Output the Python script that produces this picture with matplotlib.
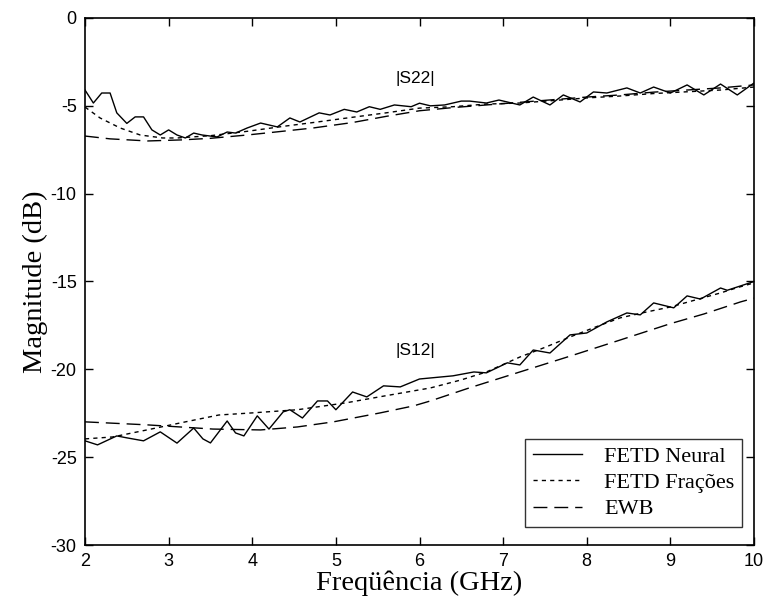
import matplotlib
matplotlib.use("Agg")
import matplotlib.pyplot as plt

# ---- data ----
s22_neural_x = [2.0, 2.1, 2.2, 2.3, 2.38, 2.5, 2.6, 2.7, 2.8, 2.9, 3.0, 3.1, 3.2, 3.3, 3.4, 3.58, 3.7, 3.8, 3.94,
                4.1, 4.3, 4.45, 4.57, 4.8, 4.93, 5.1, 5.25, 5.4, 5.53, 5.7, 5.9, 6.0, 6.13, 6.3, 6.5, 6.6, 6.8,
                6.95, 7.2, 7.36, 7.56, 7.72, 7.92, 8.08, 8.24, 8.48, 8.64, 8.8, 9.0, 9.2, 9.4, 9.6, 9.8, 10.0]
s22_neural_y = [-4.1, -4.84, -4.27, -4.27, -5.4, -6.0, -5.63, -5.63, -6.37, -6.66, -6.37, -6.66, -6.83, -6.55,
                -6.66, -6.77, -6.49, -6.55, -6.26, -5.98, -6.2, -5.69, -5.92, -5.4, -5.52, -5.2, -5.35, -5.05,
                -5.2, -4.95, -5.05, -4.85, -5.0, -4.95, -4.73, -4.73, -4.84, -4.67, -4.95, -4.5, -4.95, -4.38,
                -4.78, -4.21, -4.27, -3.98, -4.27, -3.93, -4.27, -3.81, -4.38, -3.76, -4.38, -3.7]

s22_frac_x = [2.0, 2.18, 2.42, 2.66, 2.93, 3.1, 3.5, 3.94, 4.4, 4.73, 5.2, 5.6, 6.0, 6.4, 6.8, 7.2, 7.6, 8.0,
              8.4, 8.8, 9.2, 9.6, 10.0]
s22_frac_y = [-5.07, -5.69, -6.26, -6.66, -6.83, -6.83, -6.7, -6.45, -6.15, -5.95, -5.65, -5.4, -5.13, -5.05,
              -4.9, -4.84, -4.7, -4.55, -4.44, -4.3, -4.2, -4.1, -3.93]

s22_ewb_x = [2.0, 2.3, 2.75, 3.15, 3.5, 3.94, 4.3, 4.73, 5.2, 5.6, 6.0, 6.4, 6.8, 7.2, 7.6, 8.0, 8.4, 8.8,
             9.2, 9.6, 10.0]
s22_ewb_y = [-6.72, -6.88, -7.0, -6.94, -6.85, -6.66, -6.48, -6.26, -5.95, -5.6, -5.28, -5.1, -4.95, -4.8,
             -4.65, -4.5, -4.38, -4.22, -4.1, -3.98, -3.81]

s12_neural_x = [2.0, 2.15, 2.38, 2.5, 2.7, 2.9, 3.1, 3.3, 3.41, 3.5, 3.7, 3.8, 3.9, 4.06, 4.2, 4.37, 4.45, 4.6,
                4.78, 4.9, 5.0, 5.2, 5.37, 5.57, 5.77, 6.0, 6.4, 6.65, 6.8, 7.05, 7.2, 7.36, 7.56, 7.8, 8.0,
                8.24, 8.48, 8.64, 8.8, 9.04, 9.2, 9.36, 9.6, 9.68, 9.84, 10.0]
s12_neural_y = [-24.07, -24.3, -23.79, -23.9, -24.07, -23.56, -24.2, -23.34, -23.96, -24.19, -22.94, -23.62,
                -23.79, -22.65, -23.4, -22.42, -22.3, -22.77, -21.8, -21.8, -22.3, -21.29, -21.57, -20.94, -21.0,
                -20.55, -20.37, -20.15, -20.2, -19.63, -19.75, -18.9, -19.07, -18.04, -17.93, -17.3, -16.79,
                -16.9, -16.22, -16.5, -15.82, -16.0, -15.37, -15.5, -15.25, -15.0]

s12_frac_x = [2.0, 2.33, 2.74, 3.14, 3.6, 4.0, 4.54, 5.13, 5.6, 6.13, 6.5, 6.8, 7.2, 7.5, 7.8, 8.1, 8.4, 8.7,
              9.0, 9.3, 9.6, 9.8, 10.0]
s12_frac_y = [-23.96, -23.85, -23.45, -23.05, -22.6, -22.48, -22.3, -21.9, -21.5, -21.06, -20.6, -20.15, -19.3,
              -18.75, -18.16, -17.6, -17.07, -16.75, -16.45, -16.05, -15.65, -15.35, -15.08]

s12_ewb_x = [2.0, 2.74, 3.53, 4.1, 4.54, 4.97, 5.53, 5.93, 6.13, 6.6, 7.2, 7.8, 8.4, 9.0, 9.4, 9.84, 10.0]
s12_ewb_y = [-22.99, -23.16, -23.4, -23.45, -23.28, -22.99, -22.48, -22.08, -21.8, -21.05, -20.15, -19.25,
             -18.33, -17.4, -16.85, -16.16, -15.95]

legend_labels = ["FETD Neural", "FETD Frações", "EWB"]
curve_labels = ["|S22|", "|S12|"]
label_pos_x = [5.95, 5.95]
label_pos_y = [-3.45, -18.9]

xticks = [2, 3, 4, 5, 6, 7, 8, 9, 10]
yticks = [0, -5, -10, -15, -20, -25, -30]

# ---- figure ----
fig = plt.figure(figsize=(7.7, 6.12), dpi=100)
fig.patch.set_facecolor("white")
ax = fig.add_axes([85 / 770, 67 / 612, 669 / 770, 527 / 612])

lw = 1.0
dot_style = (0, (3, 3))
dash_style = (0, (10, 5))

l1, = ax.plot(s22_neural_x, s22_neural_y, color="black", lw=lw, linestyle="-")
l2, = ax.plot(s22_frac_x, s22_frac_y, color="black", lw=lw, linestyle=dot_style)
l3, = ax.plot(s22_ewb_x, s22_ewb_y, color="black", lw=lw, linestyle=dash_style)
ax.plot(s12_neural_x, s12_neural_y, color="black", lw=lw, linestyle="-")
ax.plot(s12_frac_x, s12_frac_y, color="black", lw=lw, linestyle=dot_style)
ax.plot(s12_ewb_x, s12_ewb_y, color="black", lw=lw, linestyle=dash_style)

for t, x, y in zip(curve_labels, label_pos_x, label_pos_y):
    ax.text(x, y, t, ha="center", va="center", fontsize=12.5, family="Liberation Sans")

ax.set_xlim(2, 10)
ax.set_ylim(-30, 0)
ax.set_xticks(xticks)
ax.set_yticks(yticks)
ax.set_xticklabels([str(v) for v in xticks], family="Liberation Sans", fontsize=13)
ax.set_yticklabels([str(v) for v in yticks], family="Liberation Sans", fontsize=13)
ax.tick_params(direction="in", length=6, width=1, top=True, right=True, pad=6)
for s in ax.spines.values():
    s.set_linewidth(1.2)

ax.set_xlabel("Freqüência (GHz)", family="Liberation Serif", fontsize=20.5, labelpad=0)
ax.set_ylabel("Magnitude (dB)", family="Liberation Serif", fontsize=20.5, labelpad=2)

leg = ax.legend([l1, l2, l3], legend_labels, loc="lower right", bbox_to_anchor=(0.982, 0.034),
                prop={"family": "Liberation Serif", "size": 16}, frameon=True, fancybox=False,
                edgecolor="black", handlelength=2.2, borderpad=0.35, labelspacing=0.25,
                handletextpad=1.0, borderaxespad=0)
leg.get_frame().set_linewidth(1.0)

fig.savefig("out.png", dpi=100, facecolor="white")
